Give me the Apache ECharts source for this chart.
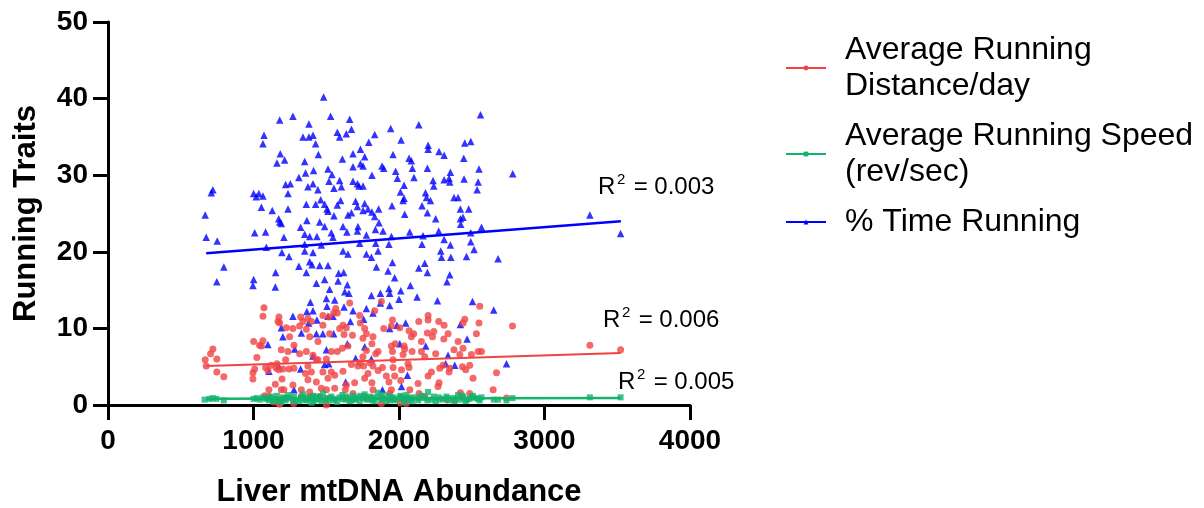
<!DOCTYPE html>
<html>
<head>
<meta charset="utf-8">
<script src="https://cdn.jsdelivr.net/npm/echarts@6/dist/echarts.min.js"></script>
<style>
html,body{margin:0;padding:0;background:#fff;}
#chart{width:1204px;height:508px;}
</style>
</head>
<body>
<div id="chart"></div>
<script>
// ---------- data ----------
const seriesNames = ['Average Running\nDistance/day', 'Average Running Speed\n(rev/sec)', '% Time Running'];
const xAxisTitle = 'Liver mtDNA Abundance';
const yAxisTitle = 'Running Traits';
const r2Labels = ['0.003', '0.006', '0.005'];

const timeData = [
[1482,40.2],[1271,37.7],[1180,37.2],[1530,37.7],[1661,37.3],[1381,36.7],[1673,36.0],[1072,35.2],[1340,35.0],[1381,35.0],[1409,35.2],[1576,35.6],[1592,35.0],[1638,35.4],[1065,34.1],[1427,34.1],[1792,34.3],[1184,32.8],[1214,32.0],[1161,31.6],[1446,32.7],[1352,31.8],[1611,32.1],[1684,32.8],[1735,33.4],[1764,32.4],[1735,31.5],[1753,31.2],[1684,31.1],[1413,30.6],[1512,30.8],[1358,30.3],[1539,30.1],[1312,29.7],[1409,28.9],[1519,29.2],[1592,29.3],[1684,29.2],[1221,28.8],[1253,28.9],[1374,28.5],[1443,28.1],[1553,28.3],[1604,28.5],[1725,28.6],[1753,28.6],[1714,28.9],[721,28.1],[710,27.7],[1001,27.6],[1037,27.6],[1019,27.2],[1065,27.3],[1237,27.6],[1462,26.8],[1599,26.7],[1702,26.6],[1764,26.3],[1363,26.2],[1427,26.2],[1489,26.2],[1505,25.6],[1576,26.1],[1714,25.9],[1753,25.4],[1787,25.6],[1054,25.8],[1129,25.4],[1237,25.6],[1512,25.3],[668,24.8],[1173,24.3],[1180,23.9],[1191,23.7],[1367,24.1],[1455,23.9],[1553,24.7],[1649,24.8],[1673,25.1],[1324,23.2],[1489,23.3],[1615,23.3],[1718,23.3],[1008,22.5],[1083,22.6],[1352,22.3],[1386,22.0],[1436,22.0],[1535,22.5],[1642,22.6],[1714,22.7],[1776,22.2],[675,21.9],[751,21.4],[1209,21.9],[1546,21.9],[1088,20.6],[1352,21.0],[1466,20.9],[1730,21.1],[1195,19.9],[1244,19.4],[1352,20.1],[1409,19.9],[1615,20.1],[1649,19.7],[1776,19.7],
[2560,37.9],[2136,36.6],[1943,36.1],[1833,35.3],[2014,34.6],[2200,33.9],[2200,33.4],[2452,34.2],[2493,34.4],[2275,33.1],[2310,32.6],[1959,32.7],[2069,32.2],[2085,31.9],[2445,32.2],[1883,31.2],[1895,30.9],[2092,30.9],[2195,30.9],[1977,30.5],[2353,30.4],[2550,30.8],[2782,30.2],[1814,30.0],[2103,29.7],[1989,29.6],[2234,29.3],[2310,29.4],[2344,29.6],[2349,29.1],[2447,29.5],[2544,29.1],[2035,28.7],[2239,28.6],[2537,28.1],[2010,27.8],[2182,27.7],[2035,27.0],[2028,26.7],[2189,27.1],[2216,26.7],[2378,27.1],[2406,27.1],[1952,26.0],[2158,26.0],[1814,25.2],[1860,25.6],[1833,24.6],[2039,24.9],[2195,25.1],[2422,25.6],[2479,25.6],[2252,24.3],[2422,24.3],[2440,24.5],[2424,23.6],[1862,23.8],[2567,23.2],[1838,22.9],[1890,22.7],[2074,22.6],[2273,22.7],[1948,22.0],[2165,22.1],[2310,21.6],[2493,22.5],[1840,21.1],[1931,21.0],[2158,21.0],[2353,20.9],[2493,21.3],[1856,20.1],[2287,20.1],[2516,20.3],[1810,19.3],[2292,19.3],[2356,19.3],[2464,19.4],[2681,19.1],
[3312,24.8],[3523,22.4],[2651,12.4],[2739,5.4],
[796,18.0],[748,16.1],[1001,16.4],[996,15.6],[1152,17.3],[1150,15.4],[1312,18.1],[1363,17.3],[1386,18.7],[1402,18.3],[1455,18.2],[1512,18.2],[1432,15.9],[1489,16.4],[1585,17.2],[1620,17.3],[1581,16.2],[1523,15.1],[1645,15.7],[1627,14.8],[1656,14.6],[1501,13.9],[1558,13.7],[1391,13.4],[1505,12.9],[1622,12.8],[1684,12.3],[1367,12.2],[1409,12.3],[1512,11.6],[1271,11.6],[1546,11.6],[1776,12.6],
[1955,18.6],[1845,18.0],[1925,17.5],[2136,17.9],[2177,18.5],[2195,17.3],[2349,17.0],[2330,16.1],[1970,16.6],[1931,15.2],[2012,14.9],[2078,15.6],[1810,14.3],[1872,14.6],[1936,14.6],[2124,14.1],[2000,13.8],[1936,13.0],[1872,13.3],[2264,13.6],[2505,13.5],[1821,12.0],
[1379,10.7],[1436,11.1],[1191,10.1],[1329,9.4],[1432,9.3],[1477,9.3],[1551,9.3],[1666,10.9],[1202,8.9],[1099,7.9],[1283,7.3],[1501,7.2],[1645,8.0],[1409,6.4],[1702,6.1],[1517,5.4],[1489,5.3],[1324,4.7],[1173,5.1],[1106,4.4],[1633,3.0],[1278,2.0],
[1757,11.2],[1936,10.0],[1986,10.4],[2046,10.7],[2422,10.5],[2468,8.6],[2005,8.0],[1764,7.6],[2184,7.7],[2337,6.5],[1810,6.0],[2321,5.4],[2383,5.2],[2058,3.9],[2017,2.4],[1886,2.0]
];

const distanceData = [
[1072,12.7],[1065,11.6],[1001,8.3],[1042,7.8],[1065,8.4],[1054,7.7],[721,7.3],[705,6.7],[748,6.0],[668,5.9],[675,5.1],[748,4.3],[796,3.7],[1023,6.2],[1008,4.7],[996,4.2],[996,3.4],[1083,4.9],[1099,4.5],[1106,2.0],[1106,1.1],[1138,0.4],[1175,0.2],[1077,1.2],[1150,2.7],[1122,5.2],[1161,5.4],[1175,4.6],[1196,3.4],[1209,2.0],[1180,0.1],
[1168,10.9],[1180,10.7],[1175,11.5],[1226,10.1],[1271,10.0],[1317,10.3],[1248,8.9],[1191,7.2],[1237,7.0],[1221,5.9],[1157,4.8],[1202,4.7],[1244,4.7],[1278,7.8],[1317,6.7],[1278,4.8],[1271,2.6],[1191,2.0],[1276,0.2],[1329,2.0],[1329,1.1],
[1324,11.5],[1340,10.9],[1374,11.3],[1398,10.9],[1363,9.9],[1386,8.9],[1443,8.3],[1363,7.0],[1409,6.5],[1432,5.9],[1374,5.1],[1398,4.3],[1358,4.1],[1374,3.3],[1432,3.0],[1386,1.7],[1398,1.1],[1455,1.1],[1466,2.2],[1501,2.0],[1477,4.3],[1535,4.3],[1558,3.9],[1512,3.5],[1558,2.2],[1501,0.0],[1535,7.0],[1576,7.0],[1611,7.4],[1649,7.7],[1615,4.4],[1638,2.6],[1631,2.0],[1695,2.9],[1684,1.5],
[1477,11.7],[1519,11.5],[1565,12.6],[1551,12.0],[1576,12.0],[1661,13.3],[1615,10.4],[1592,10.0],[1523,9.3],[1622,9.2],[1680,9.1],[1638,10.1],[1477,10.4],[1443,5.9],[1501,6.0],[1718,5.1],[1673,5.3],
[1879,13.5],[1833,12.3],[2555,12.9],[2780,10.3],[2452,11.2],[2440,10.7],[2550,10.7],[2532,9.3],[2200,11.7],[2200,11.1],[2273,10.9],[2310,10.4],[2136,10.9],[1955,11.1],[1948,10.3],[1895,10.0],[2005,10.1],[2069,9.7],[2101,9.3],[2195,9.4],[2239,9.6],[2337,9.3],[2085,8.9],[2154,8.3],[2230,8.9],[2308,8.6],[2406,8.3],[1821,8.9],[1764,10.0],[1752,8.7],[1776,9.3],[1814,8.0],[1948,7.7],[1975,8.0],[2035,7.7],[2039,7.3],[1955,7.0],[2090,7.0],[2154,7.0],[2252,6.7],[2378,7.2],[2440,7.4],[2418,6.6],[2498,6.6],[2544,7.0],[2567,7.0],
[1776,7.1],[1856,7.0],[1840,6.7],[1752,6.3],[2028,6.6],[1959,5.9],[2062,5.4],[2177,6.3],[2303,5.2],[2280,4.8],[2349,4.8],[2344,4.3],[2436,5.0],[2459,4.6],[2486,5.2],[1730,5.5],[1757,5.1],[1799,5.5],[1821,5.1],[1856,4.5],[1886,4.9],[1959,4.9],[2017,4.6],[2069,4.9],[2223,4.3],[2670,4.2],[2509,3.5],[1787,4.1],[1913,3.8],[1970,3.8],[1931,3.0],[2012,3.2],[1814,2.9],[1764,3.5],[2131,2.8],[2200,3.8],[2268,2.4],[2275,2.9],[1948,2.0],[1821,2.0],[2074,2.0],[2647,2.0],[2138,1.5],[2422,1.6],[2486,1.5],[1764,1.1],[1810,0.9],[1879,0.2],[1936,1.5],[2017,0.9],[2010,0.3],[2050,0.2],[2177,1.1],[2326,0.7],[2383,0.7],[2739,0.9],[1730,11.7],[1734,10.7],
[3312,7.8],[3523,7.2]
];

const speedData = [
[664,0.7],[698,0.8],[720,0.9],[745,0.8],[796,0.6],[1001,0.8],[1023,0.9],[1042,0.7],[1065,1.0],[1083,0.8],
[1099,0.9],[1106,0.6],[1122,1.1],[1138,0.5],[1150,0.8],[1161,1.2],[1175,0.7],[1191,0.4],[1202,1.0],[1209,0.8],[1221,0.6],[1237,1.3],[1248,0.9],[1271,0.7],[1278,1.1],[1317,0.5],[1324,0.8],[1340,1.4],[1363,0.6],[1374,1.0],[1386,0.9],[1398,0.3],[1409,1.2],[1432,0.7],[1443,0.8],[1455,1.0],[1466,0.5],[1477,1.5],[1501,0.9],[1512,0.6],[1535,1.1],[1558,0.8],[1576,0.4],[1592,1.0],[1611,1.3],[1631,0.7],[1649,0.9],[1673,0.6],[1684,1.2],[1702,0.8],[1718,1.0],[1730,0.5],[1752,0.9],[1764,1.4],[1776,0.7],[1799,1.1],[1814,0.6],[1821,0.8],[1840,1.0],[1856,1.6],[1879,0.7],[1895,0.9],[1913,0.5],[1931,1.2],[1948,0.8],[1959,1.0],[1975,0.6],[2005,1.1],[2017,0.9],[2035,0.4],[2050,1.3],[2069,0.7],[2085,0.8],[2101,1.0],[2131,0.6],[2154,1.2],[2177,0.9],[2200,1.7],[2223,0.7],[2252,0.5],[2273,1.0],[2303,0.8],[2326,1.1],[2344,0.6],[2378,0.9],[2406,1.3],[2422,0.7],[2440,1.0],[2459,0.5],[2486,0.8],[2509,1.2],[2532,0.9],[2555,0.6],[2567,1.0],
[1168,0.6],[1226,0.9],[1283,0.5],[1329,1.0],[1358,0.7],[1413,0.5],[1436,1.1],[1489,0.7],[1523,0.9],[1551,0.6],[1615,0.8],[1638,1.1],[1661,0.5],[1695,0.7],[1735,1.2],[1787,0.8],[1833,0.5],[1872,1.0],[1886,1.3],[1936,0.6],[1970,0.8],[2012,1.2],[2039,0.7],[2062,1.0],[2090,0.5],[2138,0.9],[2195,0.6],[2239,1.1],[2280,0.7],[2337,0.9],[2383,0.5],[2436,1.2],[2468,0.7],[2498,1.0],[2544,0.8],
[2651,0.7],[2681,0.7],[2739,0.6],[2780,0.9],[3312,1.0],[3523,1.0]
];

// linear fit lines (end points)
const distanceFit = [[675,5.1],[3525,6.8]];
const speedFit = [[675,0.8],[3525,0.9]];
const timeFit = [[675,19.8],[3525,24.0]];

const xTicks = {min: 0, max: 4000, step: 1000};
const yTicks = {min: 0, max: 50, step: 10};

// ---------- chart ----------
const FONT = '"Liberation Sans", Arial, Helvetica, sans-serif';
const RED = '#F04444', GREEN = '#12B36C', BLUE = '#0000FF';

const chart = echarts.init(document.getElementById('chart'), null, {renderer: 'canvas'});

function r2Label(v, x, y) {
  const st = {fontFamily: FONT, fill: '#000', verticalAlign: 'top', align: 'left'};
  return {
    type: 'group', x: x, y: y, z: 10,
    children: [
      {type: 'text', x: 0, y: 0, style: Object.assign({text: 'R', fontSize: 24}, st)},
      {type: 'text', x: 19, y: -3, style: Object.assign({text: '2', fontSize: 15}, st)},
      {type: 'text', x: 29, y: 0, style: Object.assign({text: ' = ' + v, fontSize: 24}, st)}
    ]
  };
}

const axisCommon = {
  axisLine: {show: true, onZero: false, lineStyle: {color: '#000', width: 3}},
  axisTick: {show: true, length: 15, lineStyle: {color: '#000', width: 3}},
  splitLine: {show: false},
  nameLocation: 'middle',
  nameTextStyle: {fontSize: 31, fontWeight: 'bold', color: '#000', fontFamily: FONT}
};

chart.setOption({
  animation: false,
  backgroundColor: '#fff',
  grid: {left: 108, right: 514, top: 22, bottom: 103, containLabel: false, outerBoundsMode: 'none'},
  xAxis: Object.assign({}, axisCommon, {
    type: 'value', min: xTicks.min, max: xTicks.max, interval: xTicks.step,
    name: xAxisTitle, nameGap: 72,
    axisLabel: {fontSize: 28, fontWeight: 'bold', color: '#000', fontFamily: FONT, margin: 22,
      formatter: v => String(v)}
  }),
  yAxis: Object.assign({}, axisCommon, {
    type: 'value', min: yTicks.min, max: yTicks.max, interval: yTicks.step,
    name: yAxisTitle, nameGap: 66, nameRotate: 90,
    axisLabel: {fontSize: 28, fontWeight: 'bold', color: '#000', fontFamily: FONT, margin: 20,
      formatter: v => String(v)}
  }),
  legend: {
    orient: 'vertical', left: 780, top: 27,
    itemWidth: 40, itemHeight: 6, itemGap: 14,
    selectedMode: false,
    textStyle: {fontSize: 32, lineHeight: 36, color: '#000', fontFamily: FONT, padding: [0, 0, 0, 14]},
    data: seriesNames
  },
  series: [
    {name: seriesNames[0], type: 'line', data: distanceFit, symbol: 'circle', showSymbol: false, z: 5,
     color: RED, lineStyle: {color: RED, width: 2}, itemStyle: {color: RED}},
    {name: seriesNames[1], type: 'line', data: speedFit, symbol: 'rect', showSymbol: false, z: 5,
     color: GREEN, lineStyle: {color: GREEN, width: 2.5}, itemStyle: {color: GREEN}},
    {name: seriesNames[2], type: 'line', data: timeFit, symbol: 'triangle', showSymbol: false, z: 5,
     color: BLUE, lineStyle: {color: BLUE, width: 2.5}, itemStyle: {color: BLUE}},
    {name: seriesNames[0], type: 'scatter', data: distanceData, symbol: 'circle', symbolSize: 7,
     itemStyle: {color: RED}, z: 3},
    {name: seriesNames[1], type: 'scatter', data: speedData, symbol: 'rect', symbolSize: 6,
     itemStyle: {color: GREEN}, z: 4},
    {name: seriesNames[2], type: 'scatter', data: timeData, symbol: 'triangle', symbolSize: 7.5,
     itemStyle: {color: BLUE}, z: 2}
  ],
  graphic: [
    r2Label(r2Labels[0], 598, 175),
    r2Label(r2Labels[1], 603, 308),
    r2Label(r2Labels[2], 618, 370)
  ]
});
</script>
</body>
</html>
